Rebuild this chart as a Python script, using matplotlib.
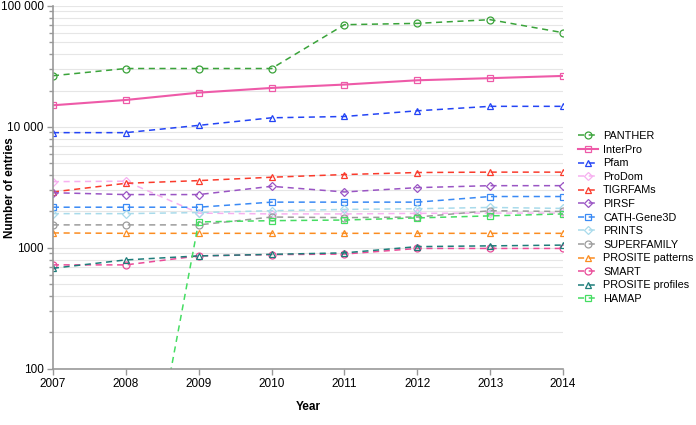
import matplotlib
matplotlib.use("Agg")
import matplotlib.pyplot as plt
import numpy as np
from matplotlib.ticker import FixedLocator, FuncFormatter, LogLocator, NullFormatter

plt.rcParams['font.family'] = ['Liberation Sans', 'DejaVu Sans']

years = [2007, 2008, 2009, 2010, 2011, 2012, 2013, 2014]

# entries per member database
panther = [26500, 30400, 30400, 30400, 70000, 71800, 77000, 60100]
interpro = [15100, 16700, 19200, 21000, 22400, 24300, 25300, 26400]
pfam = [8970, 8970, 10300, 11900, 12200, 13600, 14800, 14800]
prodom = [3530, 3560, 1940, 1910, 1910, 1930, 1940, 1940]
tigrfams = [2900, 3420, 3600, 3840, 4040, 4200, 4230, 4230]
pirsf = [2860, 2760, 2760, 3230, 2900, 3150, 3270, 3270]
cath = [2170, 2170, 2170, 2390, 2390, 2390, 2660, 2660]
prints = [1920, 1920, 1960, 2030, 2080, 2110, 2160, 2120]
superfamily = [1550, 1550, 1550, 1800, 1780, 1800, 2030, 2000]
prosite_pat = [1330, 1320, 1320, 1320, 1320, 1320, 1320, 1320]
smart = [724, 724, 859, 880, 890, 990, 990, 990]
prosite_prof = [679, 796, 859, 885, 910, 1025, 1040, 1055]
hamap = [1, 1, 1640, 1680, 1700, 1770, 1840, 1910]

series = [
    ("PANTHER", panther, '#3aa33a', 'o', '--'),
    ("InterPro", interpro, '#ee5aa8', 's', '-'),
    ("Pfam", pfam, '#2344f5', '^', '--'),
    ("ProDom", prodom, '#f7b0f0', 'D', '--'),
    ("TIGRFAMs", tigrfams, '#fa3b2c', '^', '--'),
    ("PIRSF", pirsf, '#9a55c4', 'D', '--'),
    ("CATH-Gene3D", cath, '#3a8af5', 's', '--'),
    ("PRINTS", prints, '#a9dbeb', 'D', '--'),
    ("SUPERFAMILY", superfamily, '#9c9c9c', 'o', '--'),
    ("PROSITE patterns", prosite_pat, '#fb8c20', '^', '--'),
    ("SMART", smart, '#ea4b98', 'o', '--'),
    ("PROSITE profiles", prosite_prof, '#1e7d7a', '^', '--'),
    ("HAMAP", hamap, '#45dd62', 's', '--'),
]

fig = plt.figure(figsize=(6.96, 4.25), dpi=100)
ax = fig.add_axes([0.076, 0.132, 0.733, 0.854])

for name, vals, col, mk, ls in series:
    lw = 1.5 if ls == '-' else 1.1
    ax.plot(years, vals, ls, color=col, marker=mk, markersize=5 if mk != 'D' else 4.5,
            markerfacecolor='none', markeredgewidth=0.9, linewidth=lw, label=name,
            dashes=(4, 3) if ls == '--' else (None, None))

ax.set_yscale('log')
ax.set_ylim(100, 100000)
ax.set_xlim(2007, 2014)
ax.set_xticks(years)
ax.yaxis.set_major_locator(FixedLocator([100, 1000, 10000, 100000]))
labels = {100: "100", 1000: "1000", 10000: "10 000", 100000: "100 000"}
ax.yaxis.set_major_formatter(FuncFormatter(lambda v, p: labels.get(int(round(v)), "")))
ax.yaxis.set_minor_locator(LogLocator(base=10, subs=np.arange(2, 10)))
ax.yaxis.set_minor_formatter(NullFormatter())

ax.grid(True, which='both', axis='y', color='#e6e6e6', linewidth=0.8)
ax.set_axisbelow(True)
for s in ['top', 'right']:
    ax.spines[s].set_visible(False)
for s in ['left', 'bottom']:
    ax.spines[s].set_color('#999999')
    ax.spines[s].set_linewidth(1.2)
ax.tick_params(axis='both', which='major', colors='#999999', labelcolor='black',
               labelsize=8.5, length=4, width=1, pad=2.5)
ax.tick_params(axis='y', which='minor', colors='#999999', length=3, width=1)

ax.set_xlabel("Year", fontsize=8.5, fontweight='bold', labelpad=8)
ax.set_ylabel("Number of entries", fontsize=8.5, fontweight='bold')
ax.yaxis.set_label_coords(-0.072, 0.5)

ax.legend(loc='upper left', bbox_to_anchor=(1.02, 0.667), frameon=False, fontsize=7.8,
          handlelength=1.9, handletextpad=0.45, labelspacing=0.33, borderaxespad=0)

fig.savefig("out.png", dpi=100)
